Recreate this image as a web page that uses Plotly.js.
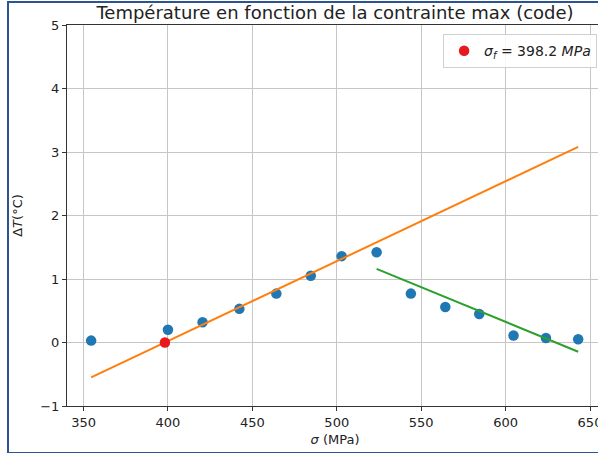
<!DOCTYPE html>
<html>
<head>
<meta charset="utf-8">
<script src="https://cdn.plot.ly/plotly-3.0.1.min.js"></script>
<style>
  html, body { margin: 0; padding: 0; overflow: hidden; background: #ffffff; width: 598px; height: 453px; }
  #chart { position: absolute; left: 0; top: 0; width: 608px; height: 453px; }
  #frame { position: absolute; left: 7px; top: 1px; width: 700px; height: 449px;
           border-left: 2px solid #2d5394; border-top: 2px solid #2d5394; border-bottom: 2px solid #2d5394;
           pointer-events: none; }
</style>
</head>
<body>
<div id="chart"></div>
<div id="frame"></div>
<script>
// Measured data (sigma in MPa, delta T in °C)
const sigma = [354.5, 400.0, 420.5, 442.3, 464.2, 484.6, 502.9, 523.6, 543.9, 564.3, 584.4, 604.7, 623.9, 643.0];
const deltaT = [0.03, 0.20, 0.32, 0.53, 0.77, 1.05, 1.36, 1.42, 0.77, 0.56, 0.45, 0.11, 0.07, 0.05];

// Fit line 1 (rising part)
const fit1X = [354.5, 643.0];
const fit1Y = [-0.55, 3.08];

// Fit line 2 (falling part)
const fit2X = [523.6, 643.0];
const fit2Y = [1.16, -0.145];

// Fatigue limit point
const sigmaF = [398.2];
const deltaTF = [0.0];
const legendLabel = '<i>σ<sub>f</sub></i> = 398.2 <i>MPa</i>';

const xTicks = [350, 400, 450, 500, 550, 600, 650];
const yTicks = [-1, 0, 1, 2, 3, 4, 5];

const font = 'DejaVu Sans, sans-serif';

const traces = [
  { x: sigma, y: deltaT, type: 'scatter', mode: 'markers',
    marker: { color: '#1f77b4', size: 10.5 }, showlegend: false, hoverinfo: 'skip' },
  { x: fit1X, y: fit1Y, type: 'scatter', mode: 'lines',
    line: { color: '#ff7f0e', width: 2 }, showlegend: false, hoverinfo: 'skip' },
  { x: fit2X, y: fit2Y, type: 'scatter', mode: 'lines',
    line: { color: '#2ca02c', width: 2 }, showlegend: false, hoverinfo: 'skip' },
  { x: sigmaF, y: deltaTF, type: 'scatter', mode: 'markers', name: legendLabel,
    marker: { color: '#e8191c', size: 10.5 }, showlegend: true }
];

const layout = {
  width: 608, height: 453,
  margin: { l: 67, r: 5, t: 25, b: 47 },
  paper_bgcolor: '#ffffff', plot_bgcolor: '#ffffff',
  font: { family: font, size: 13, color: '#222' },
  title: { text: 'Température en fonction de la contrainte max (code)',
           font: { family: font, size: 18, color: '#222' },
           x: 0.5, xref: 'paper', xanchor: 'center', y: 0.971, yref: 'container', yanchor: 'middle' },
  xaxis: {
    range: [340.2, 657.7], tickvals: xTicks, ticktext: xTicks.map(String),
    showgrid: true, gridcolor: '#c6c6c6', gridwidth: 1,
    zeroline: false, showline: true, linecolor: '#333', linewidth: 1, mirror: true,
    ticks: 'outside', ticklen: 4, tickcolor: '#333', tickfont: { size: 13, color: '#222' },
    title: { text: '<i>σ</i> (MPa)', font: { size: 13, color: '#222' }, standoff: 6 },
    automargin: false
  },
  yaxis: {
    range: [-1, 5], tickvals: yTicks, ticktext: yTicks.map(v => v < 0 ? '−' + Math.abs(v) : String(v)),
    showgrid: true, gridcolor: '#c6c6c6', gridwidth: 1,
    zeroline: false, showline: true, linecolor: '#333', linewidth: 1, mirror: true,
    ticks: 'outside', ticklen: 4, tickcolor: '#333', tickfont: { size: 13, color: '#222' },
    title: { text: 'Δ<i>T</i>(°C)', font: { size: 13, color: '#222' }, standoff: 14 },
    automargin: false
  },
  legend: {
    x: 0.989, xanchor: 'right', y: 0.976, yanchor: 'top',
    bgcolor: 'rgba(255,255,255,0.85)', bordercolor: '#d0d0d0', borderwidth: 1,
    font: { family: font, size: 14, color: '#222' }
  }
};

Plotly.newPlot('chart', traces, layout, { displayModeBar: false, staticPlot: true });
</script>
</body>
</html>
